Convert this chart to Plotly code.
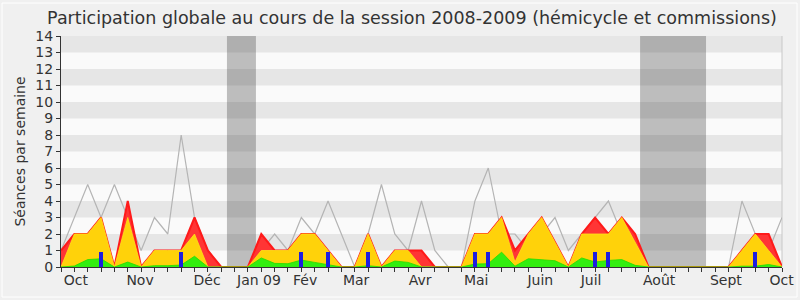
import plotly.graph_objects as go

weeks = list(range(55))

presence = [1, 2, 2, 3, 0, 4, 0, 1, 1, 1,
            3, 1, 0, 0, 0, 2, 1, 1, 2, 2,
            1, 0, 0, 2, 0, 1, 1, 1, 0, 0,
            0, 2, 2, 3, 1, 2, 3, 1.5, 0, 2,
            3, 2, 3, 2, 0, 0, 0, 0, 0, 0,
            0, 1, 2, 2, 0]

commission = [0, 2, 2, 3, 0, 3, 0, 1, 1, 1,
              2, 0, 0, 0, 0, 1, 1, 1, 2, 2,
              1, 0, 0, 2, 0, 1, 1, 0, 0, 0,
              0, 2, 2, 3, 0.3, 2, 3, 1.5, 0, 2,
              2, 2, 3, 1.5, 0, 0, 0, 0, 0, 0,
              0, 1, 2, 1, 0]

hemicycle = [0, 0.06, 0.45, 0.5, 0, 0.3, 0, 0.08, 0.08, 0.12,
             0.65, 0, 0, 0, 0, 0.55, 0.22, 0.2, 0.42, 0.28,
             0.14, 0, 0, 0.08, 0, 0.36, 0.28, 0, 0, 0,
             0, 0.18, 0.2, 0.9, 0.05, 0.5, 0.42, 0.38, 0, 0.55,
             0.3, 0.4, 0.45, 0.1, 0, 0, 0, 0, 0, 0,
             0, 0.05, 0.05, 0.15, 0]

maximum = [1, 3, 5, 3, 5, 3, 1, 3, 2, 8,
           3, 1, 0, 0, 0, 1, 2, 1, 3, 2,
           4, 2, 0, 2, 5, 2, 1, 4, 1, 0,
           0, 4, 6, 2, 2, 1, 2, 3, 1, 2,
           3, 4, 2, 1, 0, 0, 0, 0, 0, 0,
           0, 4, 2, 1, 3]

question_weeks = [3, 9, 18, 20, 23, 31, 32, 40, 41, 52]
question_values = [0.9] * len(question_weeks)

holidays = [(12.43, 14.6), (43.37, 48.31)]

month_pos = [1.12, 5.92, 10.94, 14.83, 18.28, 22.1, 26.9, 31.1, 35.9, 39.7, 44.8, 49.8, 53.97]
month_labels = ["Oct", "Nov", "Déc", "Jan 09", "Fév", "Mar", "Avr", "Mai", "Juin", "Juil", "Août", "Sept", "Oct"]

font = "DejaVu Sans"
X_RANGE = [0, 54]
Y_RANGE = [0, 14]

fig = go.Figure()

fig.add_trace(go.Scatter(x=weeks, y=maximum, mode="lines",
                         line=dict(color="#b4b4b4", width=1.2), hoverinfo="skip"))
fig.add_trace(go.Scatter(x=weeks, y=presence, mode="lines", fill="tozeroy",
                         fillcolor="#ff3535", line=dict(color="#ff1a1a", width=2)))
fig.add_trace(go.Scatter(x=weeks, y=commission, mode="lines", fill="tozeroy",
                         fillcolor="#ffd20a", line=dict(color="#ffe21a", width=0.8)))
fig.add_trace(go.Scatter(x=weeks, y=hemicycle, mode="lines", fill="tozeroy",
                         fillcolor="#33ee10", line=dict(color="#22dd00", width=0.8)))
fig.add_trace(go.Bar(x=question_weeks, y=question_values, width=0.3,
                     xaxis="x2", yaxis="y2",
                     marker=dict(color="#1e1ee0", line=dict(width=0))))

shapes = []
for k in range(7):
    shapes.append(dict(type="rect", xref="paper", yref="y", x0=0, x1=1,
                       y0=2 * k + 1, y1=2 * k + 2, fillcolor="#e6e6e6",
                       line=dict(width=0), layer="below"))
for a, b in holidays:
    shapes.append(dict(type="rect", xref="x", yref="paper", x0=a, x1=b, y0=0, y1=1,
                       fillcolor="rgba(50,50,50,0.3)", line=dict(width=0), layer="below"))
shapes.append(dict(type="line", xref="paper", yref="paper", x0=1, x1=1, y0=0, y1=1,
                   line=dict(color="#c8c8c8", width=1), layer="below"))
# light frame around the whole picture
shapes.append(dict(type="rect", xref="paper", yref="paper",
                   x0=(2 - 61) / 721, x1=(797 - 61) / 721,
                   y0=(267 - 297) / 231, y1=(267 - 3) / 231,
                   line=dict(color="#ffffff", width=1), fillcolor="rgba(0,0,0,0)",
                   layer="below"))

fig.update_layout(
    width=800, height=300,
    margin=dict(l=61, r=18, t=36, b=33),
    paper_bgcolor="#f0f0f0",
    plot_bgcolor="#fafafa",
    showlegend=False,
    shapes=shapes,
    title=dict(text="Participation globale au cours de la session 2008-2009 (hémicycle et commissions)",
               x=412 / 800, xanchor="center", y=1 - 18 / 300, yanchor="middle",
               font=dict(family=font, size=17.5, color="#333333")),
    xaxis=dict(range=X_RANGE, tickmode="array", tickvals=month_pos, ticktext=month_labels,
               ticks="", showgrid=False, zeroline=False, showline=True, automargin=False,
               linecolor="#333333", linewidth=1,
               tickfont=dict(family=font, size=14, color="#333333"),
               minor=dict(tickmode="linear", tick0=0, dtick=1, ticks="outside",
                          ticklen=4, tickcolor="#333333", showgrid=False)),
    yaxis=dict(range=Y_RANGE, tickmode="linear", tick0=0, dtick=1, ticks="outside",
               ticklen=4, tickcolor="#333333", showgrid=False, zeroline=False,
               showline=True, linecolor="#333333", linewidth=1, automargin=False,
               tickfont=dict(family=font, size=14, color="#333333"),
               title=dict(text="Séances par semaine", standoff=6,
                          font=dict(family=font, size=14, color="#333333"))),
    xaxis2=dict(range=X_RANGE, overlaying="x", visible=False),
    yaxis2=dict(range=Y_RANGE, overlaying="y", visible=False),
    bargap=0,
)

fig.write_html("out.html")
